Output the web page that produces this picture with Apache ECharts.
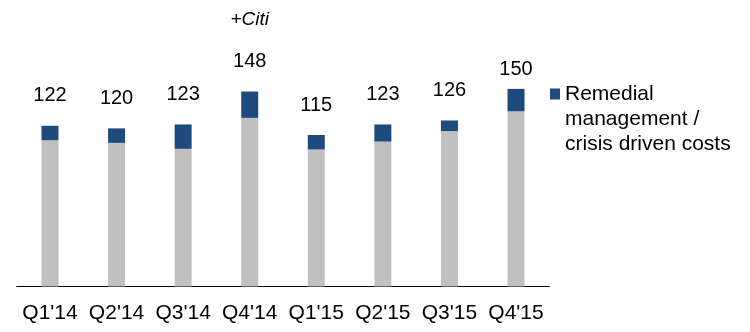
<!DOCTYPE html>
<html>
<head>
<meta charset="utf-8">
<script src="https://cdn.jsdelivr.net/npm/echarts@6/dist/echarts.min.js"></script>
<style>
  html, body { margin: 0; padding: 0; background: #fff; }
  #chart { width: 750px; height: 332px; }
</style>
</head>
<body>
<div id="chart"></div>
<script>
// Quarterly costs: core costs plus remedial management / crisis driven costs
const quarters = ["Q1'14", "Q2'14", "Q3'14", "Q4'14", "Q1'15", "Q2'15", "Q3'15", "Q4'15"];
const coreCosts = [111, 109, 104.5, 128, 104, 110, 118, 133];
const remedialCosts = [11, 11, 18.5, 20, 11, 13, 8, 17];
const totals = [122, 120, 123, 148, 115, 123, 126, 150];
const notes = ['', '', '', '+Citi', '', '', '', ''];
const legendName = 'Remedial management / crisis driven costs';

const FONT = '"Liberation Sans", Arial, sans-serif';

// Total labels sit on top of the stack; the last quarter's label hugs its bar more closely
const remedialData = remedialCosts.map((v, i) => {
  const item = { value: v };
  const label = {};
  if (i === quarters.length - 1) label.distance = 7;
  if (notes[i]) {
    label.formatter = '{note|' + notes[i] + '}\n{val|' + totals[i] + '}';
  }
  item.label = label;
  return item;
});

const chart = echarts.init(document.getElementById('chart'), null, { renderer: 'canvas' });
chart.setOption({
  animation: false,
  grid: { left: 16.7, right: 200.7, top: 23, bottom: 45.5 },
  legend: {
    data: [legendName],
    left: 550,
    top: 31.5,
    padding: 0,
    icon: 'rect',
    itemWidth: 10,
    itemHeight: 11,
    itemGap: 0,
    selectedMode: false,
    // two blank lines above keep the marker level with the first line of text
    formatter: () => '\n\nRemedial\nmanagement /\ncrisis driven costs',
    textStyle: {
      fontFamily: FONT,
      fontSize: 21,
      color: '#000',
      lineHeight: 25
    }
  },
  xAxis: {
    type: 'category',
    data: quarters,
    axisTick: { show: false },
    axisLine: { lineStyle: { color: '#000', width: 1.2 } },
    axisLabel: { color: '#000', fontFamily: FONT, fontSize: 21, margin: 16, interval: 0 }
  },
  yAxis: {
    type: 'value',
    min: 0,
    max: 200,
    show: false,
    splitLine: { show: false }
  },
  series: [
    {
      name: 'Core costs',
      type: 'bar',
      stack: 'costs',
      barWidth: 17,
      itemStyle: { color: '#c0c0c0' },
      data: coreCosts
    },
    {
      name: legendName,
      type: 'bar',
      stack: 'costs',
      barWidth: 17,
      itemStyle: { color: '#1f4a7d' },
      label: {
        show: true,
        position: 'top',
        distance: 18,
        color: '#000',
        fontFamily: FONT,
        fontSize: 20,
        lineHeight: 24,
        formatter: (p) => String(totals[p.dataIndex]),
        rich: {
          note: { fontFamily: FONT, fontSize: 19, fontStyle: 'italic', color: '#000', lineHeight: 60 },
          val: { fontFamily: FONT, fontSize: 20, color: '#000', lineHeight: 24 }
        }
      },
      data: remedialData
    }
  ]
});
</script>
</body>
</html>
